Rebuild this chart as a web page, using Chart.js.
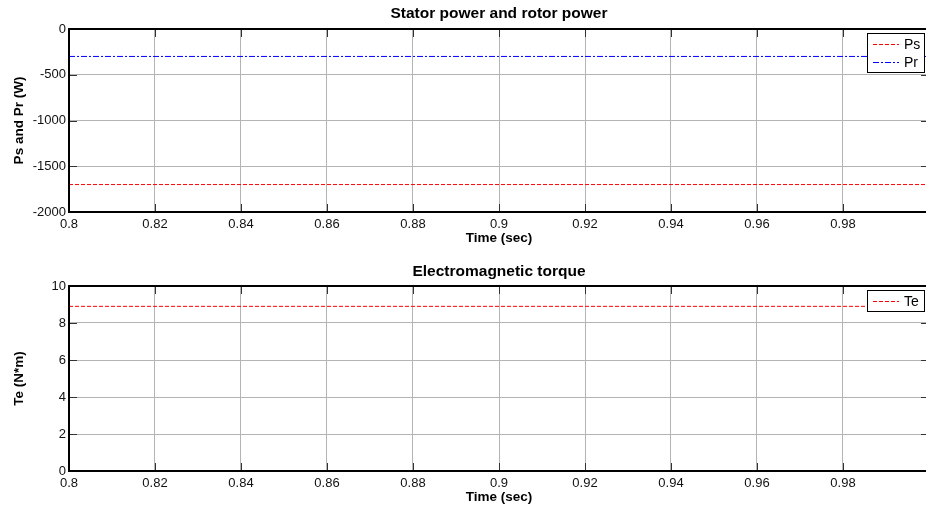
<!DOCTYPE html>
<html>
<head>
<meta charset="utf-8">
<script src="https://cdn.jsdelivr.net/npm/chart.js@4.4.1/dist/chart.umd.min.js"></script>
<style>
  html, body { margin: 0; padding: 0; background: #fff; overflow: hidden; width: 926px; height: 508px; }
  canvas { position: absolute; left: 0; }
  #powerChart { top: 0; }
  #torqueChart { top: 259px; }
</style>
</head>
<body>
<canvas id="powerChart" width="998" height="246"></canvas>
<canvas id="torqueChart" width="998" height="246"></canvas>
<script>
const time = [0.8, 0.85, 0.9, 0.95, 1.0];
const statorPower = [-1700, -1700, -1700, -1700, -1700];
const rotorPower = [-300, -300, -300, -300, -300];
const torque = [8.9, 8.9, 8.9, 8.9, 8.9];

const timeTicks = [0.8, 0.82, 0.84, 0.86, 0.88, 0.9, 0.92, 0.94, 0.96, 0.98, 1.0];
const powerTicks = [-2000, -1500, -1000, -500, 0];
const torqueTicks = [0, 2, 4, 6, 8, 10];

const FONT = 'Arial, "Liberation Sans", sans-serif';

const framePlugin = {
  id: 'frame',
  afterDraw(chart) {
    const { ctx, chartArea: a, scales: { x, y } } = chart;
    ctx.save();
    ctx.strokeStyle = '#333';
    ctx.lineWidth = 1;
    ctx.beginPath();
    x.ticks.forEach(t => {
      const px = Math.round(x.getPixelForValue(t.value)) + 0.5;
      ctx.moveTo(px, a.bottom); ctx.lineTo(px, a.bottom - 8);
      ctx.moveTo(px, a.top); ctx.lineTo(px, a.top + 8);
    });
    y.ticks.forEach(t => {
      const py = Math.round(y.getPixelForValue(t.value)) + 0.5;
      ctx.moveTo(a.left, py); ctx.lineTo(a.left + 8, py);
      ctx.moveTo(a.right, py); ctx.lineTo(a.right - 8, py);
    });
    ctx.stroke();

    ctx.strokeStyle = '#000';
    ctx.lineWidth = 2;
    ctx.strokeRect(a.left, a.top, a.right - a.left, a.bottom - a.top);

    // legend box, top right inside the axes
    const sets = chart.data.datasets;
    const lx = 867, ly = a.top + 4, lw = 57, rowH = 18;
    const lh = sets.length * rowH + 3;
    ctx.fillStyle = '#fff';
    ctx.fillRect(lx, ly, lw, lh);
    ctx.strokeStyle = '#000';
    ctx.lineWidth = 1;
    ctx.strokeRect(lx + 0.5, ly + 0.5, lw, lh);
    ctx.font = '14px ' + FONT;
    ctx.textBaseline = 'middle';
    sets.forEach((ds, i) => {
      const cy = Math.round(ly + 2 + rowH * i + rowH / 2) + 0.5;
      ctx.strokeStyle = ds.borderColor;
      ctx.lineWidth = 1;
      ctx.setLineDash(ds.borderDash);
      ctx.beginPath();
      ctx.moveTo(lx + 6, cy); ctx.lineTo(lx + 32, cy);
      ctx.stroke();
      ctx.setLineDash([]);
      ctx.fillStyle = '#000';
      ctx.fillText(ds.label, lx + 37, cy + 1);
    });
    ctx.restore();
  }
};

function makeOptions(title, yTitle, yTicks, yMin, yMax) {
  return {
    responsive: false,
    animation: false,
    layout: { padding: 0 },
    plugins: {
      legend: { display: false },
      tooltip: { enabled: false },
      title: {
        display: true,
        text: title,
        color: '#000',
        font: { family: FONT, size: 15.5, weight: 'bold' },
        padding: { top: 4, bottom: 6 }
      }
    },
    scales: {
      x: {
        type: 'linear',
        min: 0.8,
        max: 1.0,
        afterBuildTicks: s => { s.ticks = timeTicks.map(v => ({ value: v })); },
        afterFit: s => { s.height = 34; },
        grid: { color: '#b4b4b4', lineWidth: 1, drawTicks: false },
        border: { display: false },
        ticks: {
          color: '#111',
          padding: 5,
          maxRotation: 0,
          autoSkip: false,
          font: { family: FONT, size: 13 },
          callback: v => String(Number(v.toFixed(2)))
        },
        title: {
          display: true,
          text: 'Time (sec)',
          color: '#000',
          font: { family: FONT, size: 13.5, weight: 'bold' },
          padding: { top: 0, bottom: 0 }
        }
      },
      y: {
        type: 'linear',
        min: yMin,
        max: yMax,
        afterBuildTicks: s => { s.ticks = yTicks.map(v => ({ value: v })); },
        afterFit: s => { s.width = 69; },
        grid: { color: '#b4b4b4', lineWidth: 1, drawTicks: false },
        border: { display: false },
        ticks: {
          color: '#111',
          padding: 3,
          font: { family: FONT, size: 13 },
          callback: v => String(v)
        },
        title: {
          display: true,
          text: yTitle,
          color: '#000',
          font: { family: FONT, size: 13.5, weight: 'bold' },
          padding: { top: 11, bottom: 0 }
        }
      },
      // empty right-hand strip, the axes run off the page edge
      edge: {
        type: 'linear',
        position: 'right',
        min: 0,
        max: 1,
        afterFit: s => { s.width = 69; },
        grid: { display: false },
        border: { display: false },
        ticks: { display: false }
      }
    }
  };
}

const powerOptions = makeOptions('Stator power and rotor power', 'Ps and Pr (W)', powerTicks, -2000, 0);
powerOptions.plugins.title.padding = { top: 4, bottom: 6.4 };

const powerChart = new Chart(document.getElementById('powerChart'), {
  type: 'line',
  data: {
    datasets: [
      {
        label: 'Ps',
        data: time.map((t, i) => ({ x: t, y: statorPower[i] })),
        borderColor: '#ff0000',
        borderWidth: 1,
        borderDash: [4, 2],
        pointRadius: 0,
        fill: false
      },
      {
        label: 'Pr',
        data: time.map((t, i) => ({ x: t, y: rotorPower[i] })),
        borderColor: '#0000ff',
        borderWidth: 1,
        borderDash: [6, 2, 2, 2],
        pointRadius: 0,
        fill: false
      }
    ]
  },
  options: powerOptions,
  plugins: [framePlugin]
});

const torqueOptions = makeOptions('Electromagnetic torque', 'Te (N*m)', torqueTicks, 0, 10);
torqueOptions.plugins.title.padding = { top: 3.2, bottom: 5.2 };

const torqueChart = new Chart(document.getElementById('torqueChart'), {
  type: 'line',
  data: {
    datasets: [
      {
        label: 'Te',
        data: time.map((t, i) => ({ x: t, y: torque[i] })),
        borderColor: '#ff0000',
        borderWidth: 1,
        borderDash: [4, 2],
        pointRadius: 0,
        fill: false
      }
    ]
  },
  options: torqueOptions,
  plugins: [framePlugin]
});
</script>
</body>
</html>
